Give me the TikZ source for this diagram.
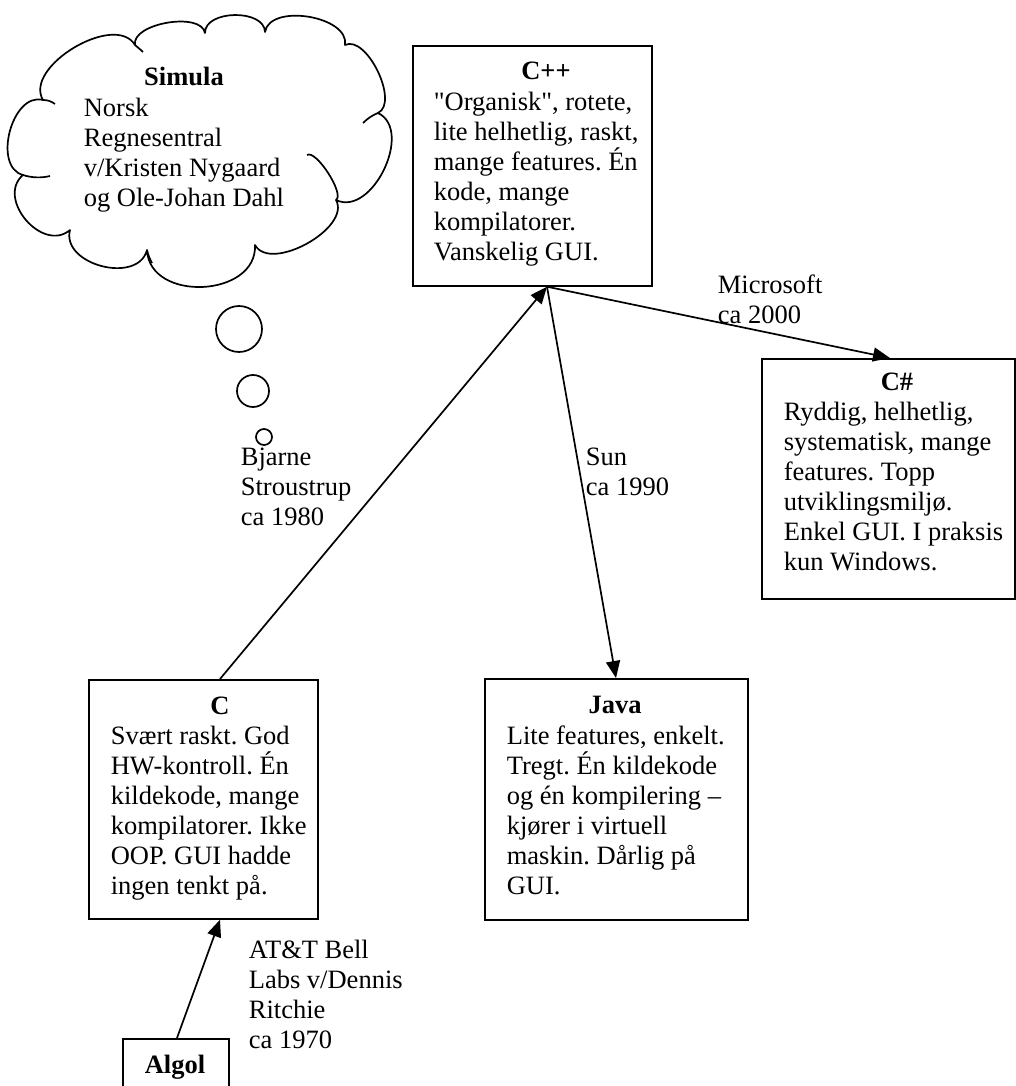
\documentclass[tikz,border=0pt]{standalone}
\usepackage{fontspec}
\setmainfont{Liberation Serif}
\usetikzlibrary{arrows.meta,calc}
% strut that fixes the height of the first line of a text block
\newcommand{\firstline}{\rule{0pt}{20pt}}
\frenchspacing

\begin{document}
\begin{tikzpicture}[x=1pt,y=-1pt,
  line width=1.7pt,
  box/.style={draw, rectangle, inner sep=0, anchor=north west},
  body/.style={font=\fontsize{26.5}{30}\selectfont, align=left, inner sep=0, anchor=north west},
  head/.style={font=\fontsize{26.5}{30}\selectfont\bfseries, inner sep=0, anchor=base},
  link/.style={draw, -{Triangle[length=17pt,width=14pt]}},
  bubble/.style={draw, circle, inner sep=0},
]
\useasboundingbox (0,0) rectangle (1016,1086);
\fill[white] (0,0) rectangle (1016,1086);
\clip (0,0) rectangle (1016,1086);

% Simula thought cloud: one puff between each pair of junction points
\draw[line join=round]
  (43,100) .. controls (12.1,91.7) and (-7.9,166.7) .. (23,175)
  .. controls (-4.4,198.4) and (42.6,253.4) .. (70,230)
  .. controls (61,264.8) and (138,284.8) .. (147,250)
  .. controls (149.4,302.6) and (257.4,297.6) .. (255,245)
  .. controls (270.5,273) and (351.5,228) .. (336,200)
  .. controls (372,217.4) and (414,130.4) .. (378,113)
  .. controls (399.6,102.5) and (366.6,34.5) .. (345,45)
  .. controls (349.7,16) and (269.7,3) .. (265,32)
  .. controls (264.6,8.7) and (204.6,9.7) .. (205,33)
  .. controls (201.3,11.3) and (131.3,23.3) .. (135,45)
  .. controls (115.1,11.8) and (23.1,66.8) .. (43,100);
% inner strokes of the overlapping puffs
\draw (307,155) .. controls (316,149.2) and (345,194.2) .. (336,200);
\draw (23,175) .. controls (32,178) and (42,178) .. (50,176);
\draw (43,100) .. controls (47,100) and (51,101) .. (55,104);
\draw (135,45) .. controls (137,47) and (140,49) .. (143,52);
\draw (147,250) .. controls (148,255) and (150,259) .. (152,263);
\draw (363,123) .. controls (368,118) and (373,115) .. (378,113);

\node[bubble, minimum size=46] (b1) at (239,329) {};
\node[bubble, minimum size=32] (b2) at (253,391) {};
\node[bubble, minimum size=16] (b3) at (264,437) {};

\node[head] (simulaH) at (184,86) {Simula};
\node[body] (simulaT) at (83,96) {\firstline Norsk\\Regnesentral\\v/Kristen Nygaard\\og Ole-Johan Dahl};

% language boxes
\node[box, minimum width=239, minimum height=240] (cpp) at (412,45) {};
\node[box, minimum width=229, minimum height=239] (c) at (88,679) {};
\node[box, minimum width=263, minimum height=241] (java) at (484,678) {};
\node[box, minimum width=253, minimum height=240] (cs) at (761,358) {};
\node[box, minimum width=106, minimum height=80] (algol) at (122,1038) {};

\node[head] (cppH) at (546,80) {C++};
\node[body] (cppT) at (433,90) {\firstline \textquotedbl Organisk\textquotedbl, rotete,\\lite helhetlig, raskt,\\mange features. Én\\kode, mange\\kompilatorer.\\Vanskelig GUI.};

\node[head] (csH) at (897,390) {C\#};
\node[body] (csT) at (783,400) {\firstline Ryddig, helhetlig,\\systematisk, mange\\features. Topp\\utviklingsmiljø.\\Enkel GUI. I praksis\\kun Windows.};

\node[head] (cH) at (220,714) {C};
\node[body] (cT) at (110,724) {\firstline Svært raskt. God\\HW-kontroll. Én\\kildekode, mange\\kompilatorer. Ikke\\OOP. GUI hadde\\ingen tenkt på.};

\node[head] (javaH) at (615,713) {Java};
\node[body] (javaT) at (506,724) {\firstline Lite features, enkelt.\\Tregt. Én kildekode\\og én kompilering –\\kjører i virtuell\\maskin. Dårlig på\\GUI.};

\node[head] (algolH) at (175,1073) {Algol};

% connector labels
\node[body] (msL) at (717,273) {\firstline Microsoft\\ca 2000};
\node[body] (sunL) at (585,445) {\firstline Sun\\ca 1990};
\node[body] (bjL) at (240,445) {\firstline Bjarne\\Stroustrup\\ca 1980};
\node[body] (attL) at (248,938) {\firstline AT\&T Bell\\Labs v/Dennis\\Ritchie\\ca 1970};

% connectors
\coordinate (cppOut) at ($(cpp.south west)+(135,0)$);
\draw[link] ($(c.north west)+(132,0)$) -- (cppOut);
\draw[link] (cppOut) -- ($(java.north west)+(132,0)$);
\draw[link] (cppOut) -- ($(cs.north west)+(129,0)$);
\draw[link] ($(algol.north west)+(55,0)$) -- ($(c.south west)+(132,0)$);
\end{tikzpicture}
\end{document}
